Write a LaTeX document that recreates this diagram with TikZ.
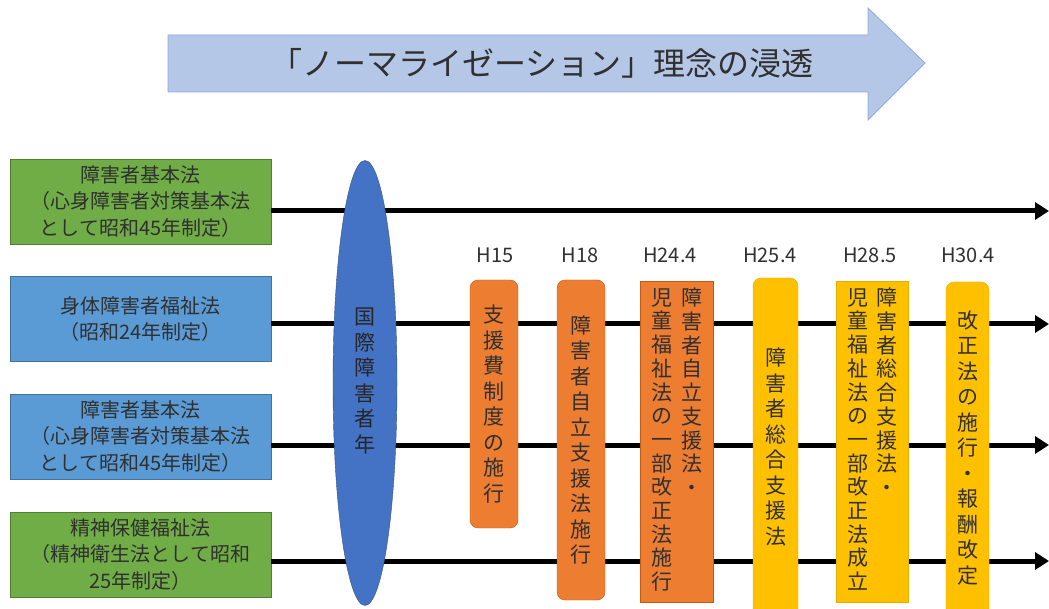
\documentclass[tikz,border=0pt]{standalone}
\usepackage{fontspec}
\setmainfont{Noto Sans CJK JP}
\usetikzlibrary{arrows.meta,shapes.geometric}
\definecolor{arrowfill}{HTML}{B4C7E7}
\definecolor{arrowline}{HTML}{8FAADC}
\definecolor{grn}{HTML}{70AD47}
\definecolor{grnb}{HTML}{507E32}
\definecolor{blu}{HTML}{5B9BD5}
\definecolor{blub}{HTML}{41719C}
\definecolor{ell}{HTML}{4472C4}
\definecolor{ellb}{HTML}{2F528F}
\definecolor{org}{HTML}{ED7D31}
\definecolor{orgb}{HTML}{C55A11}
\definecolor{yel}{HTML}{FFC000}
\definecolor{yelb}{HTML}{E6AD00}
\definecolor{txt}{HTML}{303030}
\tikzset{
  lawbox/.style={draw=grnb, fill=grn, minimum width=261pt, minimum height=85pt, inner sep=0pt, align=center, font=\fontsize{20}{26.5}\selectfont, text=txt},
  lawblue/.style={lawbox, draw=blub, fill=blu},
  tl/.style={line width=5pt, -{Triangle[length=14pt,width=17pt]}},
  yearlbl/.style={font=\fontsize{20}{24}\selectfont, text=txt, inner sep=0pt},
  vbox/.style={inner sep=0pt, align=center, text=txt, font=\fontsize{21}{25.5}\selectfont},
  rbox/.style={vbox, rounded corners=8pt, minimum width=48pt},
  col/.style={inner sep=0pt, align=center, text=txt, font=\fontsize{21}{23.7}\selectfont, anchor=north},
}
\begin{document}
\begin{tikzpicture}[x=1pt,y=-1pt]
\useasboundingbox[fill=white] (0,0) rectangle (1049,609);

% top arrow
\draw[arrowline, fill=arrowfill, line width=0.8pt] (168,35) -- (868,35) -- (868,8) -- (925,63) -- (868,120) -- (868,92) -- (168,92) -- cycle;
\node[font=\fontsize{32}{36}\selectfont, text=txt, inner sep=0pt] (title) at (542,63) {「ノーマライゼーション」理念の浸透};

% law boxes
\node[lawbox] (b1) at (140.5,201.5) {障害者基本法\\（心身障害者対策基本法\\として昭和45年制定）};
\node[lawblue] (b2) at (140.5,319) {身体障害者福祉法\\（昭和24年制定）};
\node[lawblue] (b3) at (140.5,436.5) {障害者基本法\\（心身障害者対策基本法\\として昭和45年制定）};
\node[lawbox] (b4) at (140.5,554.5) {精神保健福祉法\\（精神衛生法として昭和\\25年制定）};

% time lines
\coordinate (e1) at (1049,211);
\coordinate (e2) at (1049,324);
\coordinate (e3) at (1049,445);
\coordinate (e4) at (1049,561);
\draw[tl] (b1.east |- e1) -- (e1);
\draw[tl] (b2.east |- e2) -- (e2);
\draw[tl] (b3.east |- e3) -- (e3);
\draw[tl] (b4.east |- e4) -- (e4);

% ellipse
\node[ellipse, draw=ellb, fill=ell, minimum width=64pt, minimum height=445pt, inner sep=0pt] (iyd) at (365,383) {};
\node[vbox, text=black!85] (iydt) at (365,381) {国\\際\\障\\害\\者\\年};

% year labels
\node[yearlbl] (y15) at (495,255) {H15};
\node[yearlbl] (y18) at (580,255) {H18};
\node[yearlbl] (y244) at (670,255) {H24.4};
\node[yearlbl] (y254) at (770,255) {H25.4};
\node[yearlbl] (y285) at (870,255) {H28.5};
\node[yearlbl] (y304) at (968,255) {H30.4};

% H15
\node[rbox, draw=orgb, fill=org, minimum height=248pt] (h15) at (494,404) {支\\援\\費\\制\\度\\の\\施\\行};
% H18
\node[rbox, draw=orgb, fill=org, minimum height=320pt] (h18) at (581,440) {障\\害\\者\\自\\立\\支\\援\\法\\施\\行};
% H24.4
\node[draw=orgb, fill=org, minimum width=73pt, minimum height=321pt, inner sep=0pt] (h244) at (676.5,441.5) {};
\node[col] (h244r) at (692,288) {障\\害\\者\\自\\立\\支\\援\\法\\・};
\node[col] (h244l) at (662,288) {児\\童\\福\\祉\\法\\の\\一\\部\\改\\正\\法\\施\\行};
% H25.4
\node[rbox, draw=yelb, fill=yel, minimum width=45pt, minimum height=338pt] (h254) at (775.5,447) {};
\node[vbox] (h254t) at (775.5,447) {障\\害\\者\\総\\合\\支\\援\\法};
% H28.5
\node[draw=yelb, fill=yel, minimum width=72pt, minimum height=321pt, inner sep=0pt] (h285) at (872,441.5) {};
\node[col] (h285r) at (887,288) {障\\害\\者\\総\\合\\支\\援\\法\\・};
\node[col] (h285l) at (858,288) {児\\童\\福\\祉\\法\\の\\一\\部\\改\\正\\法\\成\\立};
% H30.4
\node[rbox, draw=yelb, fill=yel, minimum width=43pt, minimum height=334pt] (h304) at (967.5,449) {};
\node[vbox] (h304t) at (967.5,448) {改\\正\\法\\の\\施\\行\\・\\報\\酬\\改\\定};
\end{tikzpicture}
\end{document}
